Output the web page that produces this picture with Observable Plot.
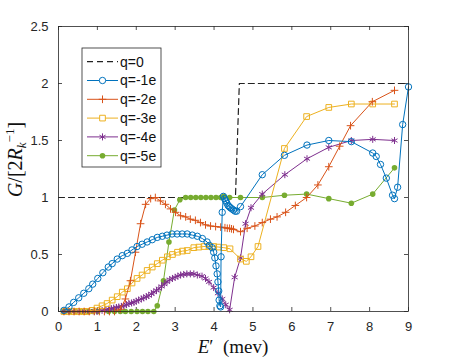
<!DOCTYPE html>
<html><head><meta charset="utf-8">
<script src="https://cdn.jsdelivr.net/npm/d3@7"></script>
<script src="https://cdn.jsdelivr.net/npm/@observablehq/plot@0.6"></script>
<style>body{margin:0;background:#fff}#chart{width:452px;height:361px}</style>
</head><body><div id="chart"></div>
<script>
const xTicks = [0,1,2,3,4,5,6,7,8,9];
const yTicks = [0,0.5,1,1.5,2,2.5];
const seriesNames = ["q=0","q=-1e","q=-2e","q=-3e","q=-4e","q=-5e"];
const seriesColors = ["#000000","#0072BD","#D95319","#EDB120","#7E2F8E","#77AC30"];

const E0 = [0, 4.55, 4.65, 9];
const G0 = [1, 1, 2, 2];

const E1 = [0.14,0.27,0.39,0.52,0.65,0.78,0.88,1.01,1.14,1.28,1.38,1.51,1.64,1.77,1.89,2.02,2.15,2.28,2.41,2.54,2.67,2.79,2.92,3.05,3.18,3.31,3.44,3.57,3.70,3.82,3.88,3.95,3.99,4.02,4.05,4.08,4.10,4.12,4.13,4.15,4.17,4.18,4.21,4.24,4.27,4.30,4.33,4.36,4.39,4.42,4.46,4.50,4.54,4.58,4.68,5.24,5.81,6.39,6.95,7.53,8.08,8.17,8.28,8.43,8.59,8.64,8.72,8.85,9.0];
const G1 = [0.01,0.04,0.08,0.12,0.16,0.20,0.24,0.29,0.34,0.39,0.42,0.46,0.49,0.51,0.54,0.57,0.59,0.61,0.63,0.65,0.66,0.67,0.68,0.68,0.68,0.68,0.67,0.66,0.64,0.61,0.58,0.56,0.52,0.47,0.40,0.33,0.26,0.18,0.10,0.05,0.04,0.48,0.87,1.01,0.99,0.97,0.95,0.93,0.92,0.91,0.90,0.89,0.88,0.88,0.92,1.20,1.37,1.46,1.50,1.49,1.39,1.36,1.29,1.17,1.02,0.99,1.09,1.64,1.97];

const E2 = [0.14,0.27,0.40,0.53,0.66,0.79,0.92,1.05,1.18,1.31,1.44,1.59,1.72,1.85,1.98,2.11,2.24,2.37,2.49,2.62,2.75,2.88,3.01,3.14,3.27,3.39,3.52,3.65,3.78,3.91,4.04,4.17,4.28,4.34,4.40,4.45,4.50,4.68,4.85,5.05,5.24,5.45,5.62,5.84,6.09,6.38,6.67,6.95,7.23,7.51,8.07,8.64];
const G2 = [0,0,0,0,0,0,0,0,0,0,0,0.02,0.11,0.27,0.52,0.77,0.94,0.99,1.00,0.97,0.94,0.90,0.87,0.84,0.83,0.81,0.80,0.78,0.76,0.75,0.745,0.74,0.735,0.73,0.73,0.725,0.72,0.70,0.73,0.75,0.78,0.81,0.83,0.87,0.93,1.00,1.11,1.27,1.45,1.63,1.84,1.94];

const E3 = [0.14,0.27,0.40,0.52,0.65,0.74,0.87,0.99,1.12,1.25,1.38,1.51,1.64,1.77,1.89,2.02,2.15,2.28,2.41,2.54,2.67,2.80,2.93,3.06,3.19,3.31,3.48,3.61,3.74,3.87,3.99,4.12,4.25,4.41,4.68,4.83,4.95,5.13,5.81,6.38,6.95,7.53,8.08,8.64];
const G3 = [0,0,0,0,0,0,0.01,0.03,0.05,0.07,0.10,0.13,0.17,0.20,0.25,0.29,0.32,0.36,0.39,0.42,0.45,0.48,0.50,0.52,0.53,0.535,0.56,0.565,0.57,0.57,0.57,0.565,0.56,0.55,0.46,0.44,0.48,0.57,1.43,1.71,1.79,1.82,1.82,1.82];

const E4 = [0.14,0.27,0.40,0.53,0.66,0.79,0.92,0.99,1.12,1.20,1.29,1.36,1.42,1.49,1.55,1.62,1.68,1.75,1.81,1.88,1.94,2.00,2.06,2.13,2.19,2.26,2.32,2.39,2.45,2.52,2.58,2.65,2.72,2.79,2.86,2.93,3.00,3.07,3.14,3.22,3.30,3.39,3.48,3.57,3.69,3.78,3.87,3.99,4.10,4.21,4.30,4.40,4.53,4.68,4.81,4.95,5.24,5.82,6.39,6.95,7.53,8.08,8.64];
const G4 = [0,0,0,0,0,0,0,0,0.01,0.015,0.02,0.025,0.03,0.035,0.04,0.045,0.05,0.06,0.07,0.075,0.08,0.09,0.10,0.11,0.12,0.13,0.14,0.155,0.17,0.185,0.20,0.22,0.24,0.26,0.28,0.29,0.30,0.31,0.32,0.325,0.33,0.33,0.33,0.32,0.31,0.29,0.26,0.21,0.16,0.11,0.06,0.015,0.30,0.47,0.77,0.91,1.03,1.20,1.34,1.44,1.50,1.51,1.50];

const E5 = [0.14,0.29,0.44,0.59,0.74,0.87,1.01,1.29,1.44,1.59,1.72,1.87,2.02,2.16,2.30,2.45,2.54,2.70,2.84,2.98,3.12,3.27,3.40,3.53,3.66,3.79,3.92,4.05,4.17,4.25,4.40,4.68,5.24,5.81,6.38,6.95,7.53,8.08,8.64];
const G5 = [0,0,0,0,0,0,0,0,0,0,0,0,0,0,0,0,0.05,0.27,0.61,0.89,0.98,1.00,1.00,1.00,1.00,1.00,1.00,1.00,1.00,1.01,1.00,1.00,1.00,1.02,1.03,0.99,0.95,1.03,1.26];

const toRows = (E, G) => E.map((e, i) => ({E: e, G: G[i]}));
const s0 = toRows(E0, G0), s1 = toRows(E1, G1), s2 = toRows(E2, G2),
      s3 = toRows(E3, G3), s4 = toRows(E4, G4), s5 = toRows(E5, G5);

const W = 452, H = 361, mL = 58, mR = 44, mT = 26, mB = 50;
const fw = W - mL - mR, fh = H - mT - mB;
const axc = "#262626";

const chart = Plot.plot({
  width: W, height: H, marginLeft: mL, marginRight: mR, marginTop: mT, marginBottom: mB,
  x: {domain: [0, 9]}, y: {domain: [0, 2.5]},
  style: {fontFamily: "'Liberation Sans', Arial, sans-serif", fontSize: "13px", background: "#fff", color: axc},
  marks: [
    Plot.axisX(xTicks, {tickSize: 0, tickPadding: 10, label: null, fontSize: 13}),
    Plot.axisY(yTicks, {tickSize: 0, tickPadding: 10, label: null, fontSize: 13, tickFormat: d => String(d)}),
    Plot.tickX(xTicks, {x: d => d, stroke: axc, strokeWidth: 0.8, insetTop: fh - 4}),
    Plot.tickX(xTicks, {x: d => d, stroke: axc, strokeWidth: 0.8, insetBottom: fh - 4}),
    Plot.tickY(yTicks, {y: d => d, stroke: axc, strokeWidth: 0.8, insetRight: fw - 4}),
    Plot.tickY(yTicks, {y: d => d, stroke: axc, strokeWidth: 0.8, insetLeft: fw - 4}),
    Plot.line(s0, {x: "E", y: "G", stroke: "#222", strokeWidth: 1.2, strokeDasharray: "6,4"}),
    Plot.line(s5, {x: "E", y: "G", stroke: seriesColors[5], strokeWidth: 1}),
    Plot.dot(s5, {x: "E", y: "G", fill: seriesColors[5], r: 2.8}),
    Plot.line(s4, {x: "E", y: "G", stroke: seriesColors[4], strokeWidth: 1}),
    Plot.dot(s4, {x: "E", y: "G", stroke: seriesColors[4], symbol: "asterisk", r: 3.3, strokeWidth: 1}),
    Plot.line(s3, {x: "E", y: "G", stroke: seriesColors[3], strokeWidth: 1}),
    Plot.dot(s3, {x: "E", y: "G", stroke: seriesColors[3], symbol: "square", fill: "none", r: 3.2, strokeWidth: 1}),
    Plot.line(s2, {x: "E", y: "G", stroke: seriesColors[2], strokeWidth: 1}),
    Plot.dot(s2, {x: "E", y: "G", stroke: seriesColors[2], symbol: "plus", r: 2.6, strokeWidth: 1}),
    Plot.line(s1, {x: "E", y: "G", stroke: seriesColors[1], strokeWidth: 1}),
    Plot.dot(s1, {x: "E", y: "G", stroke: seriesColors[1], fill: "none", r: 3.2, strokeWidth: 1}),
    Plot.frame({stroke: axc, strokeWidth: 0.8})
  ]
});
document.getElementById("chart").appendChild(chart);

const svg = d3.select(chart);
// axis labels
const xl = svg.append("text").attr("x", (mL + W - mR) / 2).attr("y", 353)
  .attr("text-anchor", "middle").attr("font-family", "'Liberation Serif', 'DejaVu Serif', serif")
  .attr("font-size", 19).attr("fill", "#111");
xl.append("tspan").attr("font-style", "italic").text("E");
xl.append("tspan").text("′\u2002(mev)");

const yl = svg.append("text").attr("transform", `translate(22,${(mT + H - mB) / 2 - 9}) rotate(-90)`)
  .attr("text-anchor", "middle").attr("font-family", "'Liberation Serif', 'DejaVu Serif', serif")
  .attr("font-size", 20).attr("fill", "#111");
yl.append("tspan").attr("font-style", "italic").text("G");
yl.append("tspan").text("/[2");
yl.append("tspan").attr("font-style", "italic").text("R");
yl.append("tspan").attr("font-style", "italic").attr("font-size", 13).attr("dy", 4).text("k");
yl.append("tspan").attr("font-size", 13).attr("dy", -12).text("−1");
yl.append("tspan").attr("dy", 8).text("]");

// legend
const lg = svg.append("g").attr("text-anchor", "start");
lg.append("rect").attr("x", 82).attr("y", 48).attr("width", 79).attr("height", 119)
  .attr("fill", "#fff").attr("stroke", axc).attr("stroke-width", 0.8);
const symbols = [null, d3.symbolCircle, d3.symbolPlus, d3.symbolSquare, d3.symbolAsterisk, d3.symbolCircle];
const rs = [0, 3.2, 2.6, 3.2, 3.3, 2.8];
seriesNames.forEach((name, i) => {
  const yy = 61.7 + i * 18.8;
  const c = i === 0 ? "#222" : seriesColors[i];
  lg.append("line").attr("x1", 87).attr("x2", 118).attr("y1", yy).attr("y2", yy)
    .attr("stroke", c).attr("stroke-width", i === 0 ? 1.2 : 1).attr("stroke-dasharray", i === 0 ? "6,4" : null);
  if (symbols[i]) {
    lg.append("path").attr("transform", `translate(102.5,${yy})`)
      .attr("d", d3.symbol(symbols[i], Math.PI * rs[i] * rs[i])())
      .attr("fill", i === 5 ? c : (i === 1 || i === 3 ? "#fff" : "none"))
      .attr("stroke", i === 5 ? "none" : c).attr("stroke-width", 1);
  }
  lg.append("text").attr("x", 120).attr("y", yy).attr("dy", "0.35em").attr("text-anchor", "start")
    .attr("font-family", "'Liberation Sans', Arial, sans-serif").attr("font-size", 14)
    .attr("fill", "#111").text(name);
});
</script></body></html>
